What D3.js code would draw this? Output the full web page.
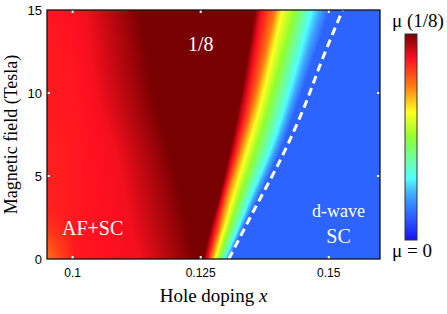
<!DOCTYPE html>
<html><head><meta charset="utf-8">
<script src="https://cdn.jsdelivr.net/npm/d3@7"></script>
<style>
body{margin:0;background:#fff;}
svg{display:block;}
</style></head><body>
<script>
// field rows (Tesla) where the profile along the doping axis was read
var fieldRows = [0, 2, 3.5, 6.5, 9.25, 15];
// doping positions of the profile nodes, one array per field row
// nodes: left edge, red, darkening, dark start, dark end, red, orange, yellow, green, cyan, blue
var dopingAt0   = [0.0950, 0.1005, 0.1132, 0.1239, 0.1255, 0.1264, 0.1270, 0.1278, 0.1286, 0.1297, 0.1307];
var dopingAt2   = [0.0950, 0.1005, 0.1112, 0.1225, 0.1270, 0.1280, 0.1288, 0.1297, 0.1307, 0.1325, 0.1336];
var dopingAt35  = [0.0950, 0.1005, 0.1102, 0.1214, 0.1284, 0.1292, 0.1299, 0.1311, 0.1323, 0.1344, 0.1360];
var dopingAt65  = [0.0950, 0.1005, 0.1083, 0.1190, 0.1307, 0.1317, 0.1327, 0.1340, 0.1356, 0.1385, 0.1405];
var dopingAt925 = [0.0950, 0.1001, 0.1054, 0.1165, 0.1325, 0.1338, 0.1352, 0.1366, 0.1383, 0.1415, 0.1438];
var dopingAt15  = [0.0950, 0.0995, 0.1024, 0.1132, 0.1356, 0.1370, 0.1395, 0.1409, 0.1434, 0.1467, 0.1502];
// mu (in units of 1/8) at those nodes
var muAt0   = [0.76, 0.87, 0.89, 1, 1, 0.88, 0.75, 0.62, 0.5, 0.3, 0.12];
var muAt2   = [0.84, 0.87, 0.89, 1, 1, 0.88, 0.75, 0.62, 0.5, 0.3, 0.12];
var muAt35  = [0.86, 0.87, 0.89, 1, 1, 0.88, 0.75, 0.62, 0.5, 0.3, 0.12];
var muAt65  = [0.86, 0.87, 0.89, 1, 1, 0.88, 0.75, 0.62, 0.5, 0.3, 0.12];
var muAt925 = [0.87, 0.87, 0.89, 1, 1, 0.88, 0.75, 0.62, 0.5, 0.3, 0.12];
var muAt15  = [0.87, 0.88, 0.89, 1, 1, 0.88, 0.75, 0.62, 0.5, 0.3, 0.12];

// dashed boundary line
var dashField  = [0, 3, 6, 9, 12, 15];
var dashDoping = [0.1305, 0.1355, 0.1406, 0.1450, 0.1487, 0.1527];

// colour map (jet-like)
var cmapStops  = [0, 0.12, 0.22, 0.3, 0.5, 0.62, 0.75, 0.88, 1];
var cmapColors = ["#1414ff", "#2d64ff", "#40a8ff", "#50ffff", "#90ff30", "#ffff20", "#ff7a10", "#ff1020", "#780000"];

var xTicks = [0.1, 0.125, 0.15];
var xTickLabels = ["0.1", "0.125", "0.15"];
var yTicks = [0, 5, 10, 15];

var dopingRows = [dopingAt0, dopingAt2, dopingAt35, dopingAt65, dopingAt925, dopingAt15];
var muRows = [muAt0, muAt2, muAt35, muAt65, muAt925, muAt15];

var width = 447, height = 314;
var margin = {top: 10, right: 67, bottom: 55, left: 47};
var w = width - margin.left - margin.right;
var h = height - margin.top - margin.bottom;

var x = d3.scaleLinear().domain([0.095, 0.16]).range([margin.left, margin.left + w]);
var y = d3.scaleLinear().domain([0, 15]).range([margin.top + h, margin.top]);
var cmap = d3.scaleLinear().domain(cmapStops).range(cmapColors).clamp(true);

// smooth (monotone cubic) blend of one node between the field rows
function monotone(xs, ys) {
  var n = xs.length, d = [], m = [];
  for (var i = 0; i < n - 1; i++) d.push((ys[i + 1] - ys[i]) / (xs[i + 1] - xs[i]));
  m[0] = d[0]; m[n - 1] = d[n - 2];
  for (var i = 1; i < n - 1; i++) m[i] = d[i - 1] * d[i] <= 0 ? 0 : (d[i - 1] + d[i]) / 2;
  for (var i = 0; i < n - 1; i++) {
    if (d[i] === 0) { m[i] = m[i + 1] = 0; continue; }
    var a = m[i] / d[i], b = m[i + 1] / d[i], s = a * a + b * b;
    if (s > 9) { var tau = 3 / Math.sqrt(s); m[i] = tau * a * d[i]; m[i + 1] = tau * b * d[i]; }
  }
  return function(v) {
    var k = Math.max(0, Math.min(n - 2, d3.bisectRight(xs, v) - 1));
    var hh = xs[k + 1] - xs[k], t = (v - xs[k]) / hh;
    var t2 = t * t, t3 = t2 * t;
    return (2 * t3 - 3 * t2 + 1) * ys[k] + (t3 - 2 * t2 + t) * hh * m[k] +
           (-2 * t3 + 3 * t2) * ys[k + 1] + (t3 - t2) * hh * m[k + 1];
  };
}
var nodeX = dopingAt0.map(function(_, i) { return monotone(fieldRows, dopingRows.map(function(r) { return r[i]; })); });
var nodeMu = muAt0.map(function(_, i) { return monotone(fieldRows, muRows.map(function(r) { return r[i]; })); });

var svg = d3.select("body").append("svg")
  .attr("width", width)
  .attr("height", height);

// heat map painted on a canvas, then placed as an image
var canvas = document.createElement("canvas");
canvas.width = w; canvas.height = h;
var ctx = canvas.getContext("2d");
var img = ctx.createImageData(w, h);
for (var j = 0; j < h; j++) {
  var B = y.invert(margin.top + j + 0.5);
  var xs = nodeX.map(function(f) { return f(B); });
  for (var q = 1; q < xs.length; q++) if (xs[q] <= xs[q - 1]) xs[q] = xs[q - 1] + 1e-6;
  var ms = nodeMu.map(function(f) { return f(B); });
  var prof = d3.scaleLinear().domain(xs).range(ms).clamp(true);
  for (var i = 0; i < w; i++) {
    var c = d3.rgb(cmap(prof(x.invert(margin.left + i + 0.5))));
    var p = (j * w + i) * 4;
    img.data[p] = c.r; img.data[p + 1] = c.g; img.data[p + 2] = c.b; img.data[p + 3] = 255;
  }
}
ctx.putImageData(img, 0, 0);

svg.append("image")
  .attr("x", margin.left).attr("y", margin.top)
  .attr("width", w).attr("height", h)
  .attr("preserveAspectRatio", "none")
  .attr("href", canvas.toDataURL());

svg.append("clipPath").attr("id", "clip")
  .append("rect").attr("x", margin.left).attr("y", margin.top).attr("width", w).attr("height", h);

// dashed boundary
var line = d3.line()
  .x(function(d, i) { return x(dashDoping[i]); })
  .y(function(d) { return y(d); })
  .curve(d3.curveMonotoneY);
svg.append("path")
  .attr("d", line(dashField))
  .attr("clip-path", "url(#clip)")
  .attr("fill", "none")
  .attr("stroke", "#fff")
  .attr("stroke-width", 3)
  .attr("stroke-dasharray", "8,5");

// white tick marks inside the frame
var tk = svg.append("g").attr("stroke", "#fff").attr("stroke-width", 2);
xTicks.forEach(function(v) {
  tk.append("line").attr("x1", x(v)).attr("x2", x(v)).attr("y1", margin.top).attr("y2", margin.top + 3);
  tk.append("line").attr("x1", x(v)).attr("x2", x(v)).attr("y1", margin.top + h).attr("y2", margin.top + h - 3);
});
[5, 10].forEach(function(v) {
  tk.append("line").attr("y1", y(v)).attr("y2", y(v)).attr("x1", margin.left).attr("x2", margin.left + 3);
  tk.append("line").attr("y1", y(v)).attr("y2", y(v)).attr("x1", margin.left + w).attr("x2", margin.left + w - 3);
});

// frame
svg.append("rect")
  .attr("x", margin.left).attr("y", margin.top).attr("width", w).attr("height", h)
  .attr("fill", "none").attr("stroke", "#111").attr("stroke-width", 1.3);

// tick labels
svg.selectAll(".xl").data(xTicks).enter().append("text")
  .attr("x", function(d) { return x(d); })
  .attr("y", 277)
  .attr("text-anchor", "middle")
  .style("font", "12px 'Liberation Sans', Arial, sans-serif")
  .text(function(d, i) { return xTickLabels[i]; });
svg.selectAll(".yl").data(yTicks).enter().append("text")
  .attr("x", 42)
  .attr("y", function(d) { return y(d); })
  .attr("dy", "0.36em")
  .attr("text-anchor", "end")
  .style("font", "13px 'Liberation Sans', Arial, sans-serif")
  .text(function(d) { return d; });

// axis titles
var serif = "'Liberation Serif', 'Times New Roman', serif";
svg.append("text")
  .attr("transform", "translate(17," + (margin.top + h / 2) + ") rotate(-90)")
  .attr("text-anchor", "middle")
  .style("font", "18px " + serif)
  .text("Magnetic field (Tesla)");
var xt = svg.append("text")
  .attr("x", margin.left + w / 2).attr("y", 302)
  .attr("text-anchor", "middle")
  .style("font", "19px " + serif);
xt.append("tspan").text("Hole doping ");
xt.append("tspan").style("font-style", "italic").text("x");

// region labels
function label(txt, xv, yv, size) {
  svg.append("text").attr("x", xv).attr("y", yv)
    .attr("text-anchor", "middle").attr("fill", "#fff")
    .style("font", size + "px " + serif).text(txt);
}
label("1/8", x(0.125), 51, 20);
label("AF+SC", x(0.1039), 235, 20);
label("d-wave", x(0.1519), 217, 18);
label("SC", x(0.1519), 243, 20);

// colour bar
var cb = {x: 405, y: 34, w: 12, h: 206};
var grad = svg.append("defs").append("linearGradient")
  .attr("id", "cbar").attr("x1", 0).attr("y1", 1).attr("x2", 0).attr("y2", 0);
grad.selectAll("stop").data(cmapStops).enter().append("stop")
  .attr("offset", function(d) { return d; })
  .attr("stop-color", function(d, i) { return cmapColors[i]; });
svg.append("rect")
  .attr("x", cb.x).attr("y", cb.y).attr("width", cb.w).attr("height", cb.h)
  .attr("fill", "url(#cbar)").attr("stroke", "#333").attr("stroke-width", 1);
svg.append("text").attr("x", 392).attr("y", 27)
  .style("font", "19px " + serif).text("\u03bc (1/8)");
svg.append("text").attr("x", 392).attr("y", 257)
  .style("font", "19px " + serif).text("\u03bc = 0");
</script>
</body></html>
